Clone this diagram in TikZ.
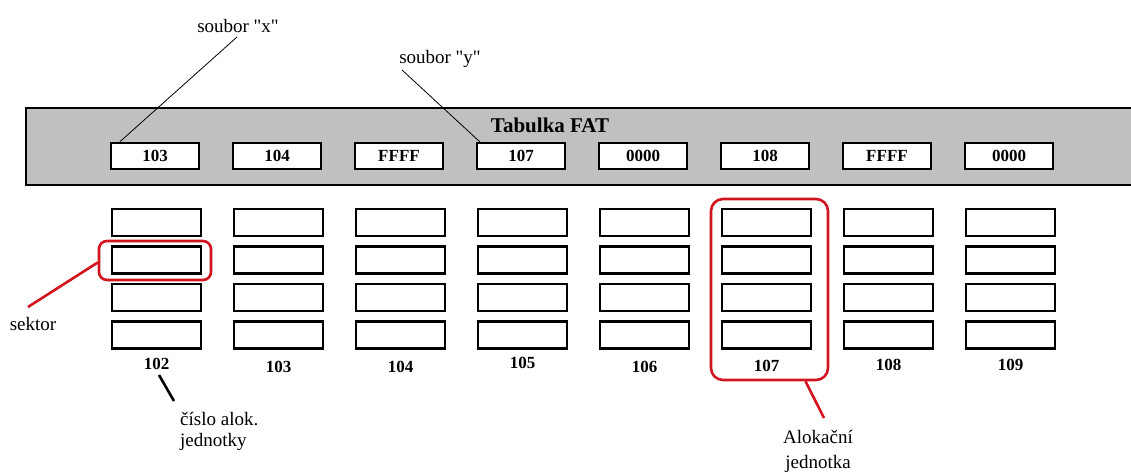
\documentclass[tikz,border=0pt]{standalone}
\usepackage{fontspec}
\setmainfont{Liberation Serif}
\newfontfamily\rawserif{Liberation Serif}
\usetikzlibrary{calc}
\definecolor{fatgray}{RGB}{192,192,192}
\definecolor{hired}{RGB}{210,20,30}
\begin{document}
\begin{tikzpicture}[x=1pt,y=-1pt,
  cell/.style={draw=black,line width=2.4pt,fill=white,minimum width=88pt,minimum height=26pt,inner sep=0pt,
    font=\fontsize{17}{19}\selectfont\bfseries},
  sectorbox/.style={draw=black,line width=2.4pt,fill=white,minimum width=89pt,minimum height=27pt,inner sep=0pt},
  lbl/.style={font=\fontsize{19}{22}\selectfont,inner sep=0pt,anchor=base},
  numlbl/.style={font=\fontsize{17}{19}\selectfont\bfseries,inner sep=0pt,anchor=base},
  hilite/.style={draw=hired,line width=2.6pt,rounded corners=8pt,inner sep=0pt},
  pointer/.style={line width=0.8pt},
  redptr/.style={draw=hired,line width=2.6pt}]
\useasboundingbox (0,0) rectangle (1131,472);
\fill[white] (0,0) rectangle (1131,472);
% FAT band
\node[draw=black,line width=2pt,fill=fatgray,inner sep=0pt,minimum width=1120pt,minimum height=77pt,anchor=north west] (band) at (25,107) {};
\node[font=\fontsize{21}{24}\selectfont\bfseries,inner sep=0pt,anchor=base] (fattitle) at (550,132) {Tabulka FAT};
\foreach \i/\v in {0/103,1/104,2/FFFF,3/107,4/0000,5/108,6/FFFF,7/0000}{
  \node[cell] (f\i) at ({155+122*\i},156) {\v};
}
% sectors
\foreach \i/\n/\b in {0/102/369,1/103/372,2/104/372,3/105/368,4/106/372,5/107/371,6/108/370,7/109/370}{
  \foreach \r in {0,1,2,3}{
    \node[sectorbox] (s\i-\r) at ({156.5+122*\i},{222.5+37.5*\r}) {};
  }
  \node[numlbl] (n\i) at ({156.5+122*\i},\b) {\n};
}
% highlights
\node[hilite,minimum width=112pt,minimum height=39pt] (sekbox) at (155,260.5) {};
\node[hilite,rounded corners=12pt,minimum width=117pt,minimum height=181pt] (aubox) at (769.5,289.5) {};
% labels
\node[lbl,font=\fontsize{19}{22}\rawserif] (sx) at (238,32) {soubor "x"};
\node[lbl,font=\fontsize{19}{22}\rawserif] (sy) at (440,63) {soubor "y"};
\node[lbl] (sek) at (33,330) {sektor};
\node[lbl,anchor=base west] (cis1) at (180,425) {číslo alok.};
\node[lbl,anchor=base west] (cis2) at (180,446) {jednotky};
\node[lbl] (al1) at (818,443) {Alokační};
\node[lbl] (al2) at (818,468) {jednotka};
% connectors
\coordinate (sxend) at (237,37);
\coordinate (syend) at (402,70);
\draw[pointer] (sxend) -- ($(f0.north west)+(10,0)$);
\draw[pointer] (syend) -- ($(f3.north west)+(4,0)$);
\coordinate (sekend) at (28,307);
\draw[redptr] ($(sekbox.west)+(0,2)$) -- (sekend);
\coordinate (cisstart) at (159,375);
\coordinate (cisend) at (174,401);
\draw[line width=2.6pt] (cisstart) -- (cisend);
\coordinate (alend) at (824,418);
\draw[redptr] ($(aubox.south)+(36,0)$) -- (alend);
\end{tikzpicture}
\end{document}
